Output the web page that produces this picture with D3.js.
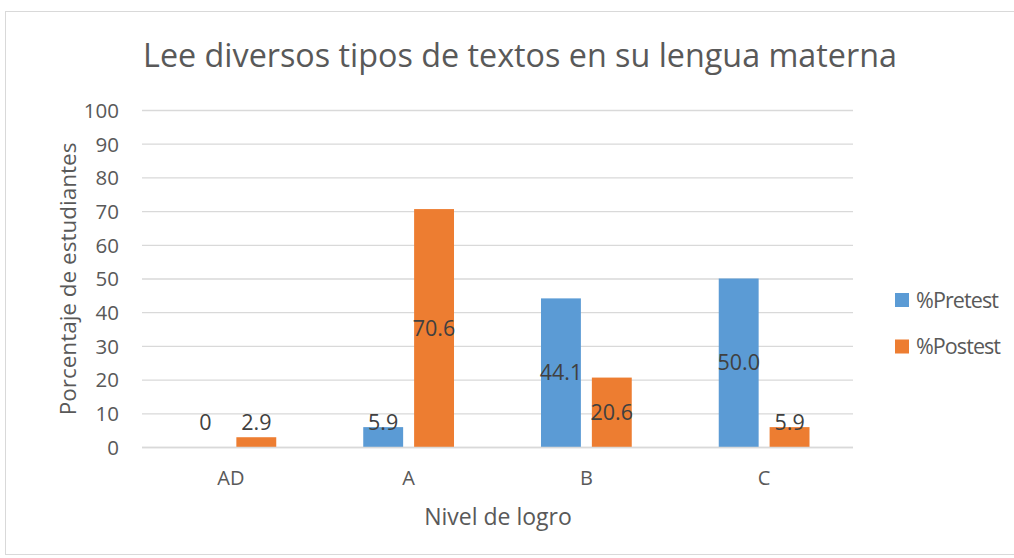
<!DOCTYPE html>
<html><head><meta charset="utf-8">
<script src="https://cdn.jsdelivr.net/npm/d3@7"></script>
<style>
body{margin:0;background:#fff;}
text{font-family:"Open Sans", Carlito, Calibri, sans-serif;}
</style></head>
<body><svg id="c" width="1014" height="558"></svg>
<script>
const categories = ["AD","A","B","C"];
const series = ["%Pretest","%Postest"];
const pretest = [0, 5.9, 44.1, 50.0];
const postest = [2.9, 70.6, 20.6, 5.9];
const yTicks = [0,10,20,30,40,50,60,70,80,90,100];
const colors = ["#5B9BD5","#ED7D31"];
const values = [pretest, postest];

(function(){
const svg = d3.select("#c");
svg.append("rect").attr("x",5.5).attr("y",11.5).attr("width",1020).attr("height",543)
  .attr("fill","#fff").attr("stroke","#D9D9D9");

const pL=142, pR=853, pT=110, pB=447;
const x0 = d3.scaleBand().domain(categories).range([pL,pR]).paddingInner(0).paddingOuter(0);
const bw0 = x0.bandwidth();
const x1 = d3.scaleBand().domain(series).range([bw0*0.2447, bw0*0.7553]).paddingInner(11/51).paddingOuter(0);
const y = d3.scaleLinear().domain([0,100]).range([pB,pT]);

svg.append("g").selectAll("line").data(yTicks).join("line")
  .attr("x1",pL).attr("x2",pR).attr("y1",d=>y(d)+0.5).attr("y2",d=>y(d)+0.5)
  .attr("stroke","#D9D9D9").attr("stroke-width",1.3);

const yAxis = d3.axisLeft(y).tickValues(yTicks).tickSize(0).tickPadding(0).tickFormat(d3.format("d"));
const ga = svg.append("g").attr("transform",`translate(119,0)`).call(yAxis);
ga.select(".domain").remove();
ga.selectAll("text").attr("fill","#595959").style("font-size","20.5px").attr("dy","0.36em");

const xAxis = d3.axisBottom(x0).tickSize(0).tickPadding(0);
const gx = svg.append("g").attr("transform",`translate(0,${pB})`).call(xAxis);
gx.select(".domain").remove();
gx.selectAll("text").attr("fill","#595959").style("font-size","20px").attr("dy","0").attr("y",38);

const groups = svg.append("g").selectAll("g").data(categories).join("g")
  .attr("transform",d=>`translate(${x0(d)},0)`);
series.forEach((s,si)=>{
  groups.append("rect")
    .attr("x",x1(s)).attr("width",x1.bandwidth())
    .attr("y",(d,i)=>y(values[si][i])).attr("height",(d,i)=>y(0)-y(values[si][i]))
    .attr("fill",colors[si]);
});
svg.append("line").attr("x1",pL).attr("x2",pR).attr("y1",pB+0.5).attr("y2",pB+0.5)
  .attr("stroke","#D9D9D9").attr("stroke-width",1.3);

const fmt = v => v===0 ? "0" : d3.format(".1f")(v);
series.forEach((s,si)=>{
  groups.append("text")
    .attr("x",x1(s)+x1.bandwidth()/2)
    .attr("y",(d,i)=>{const v=values[si][i]; const c=(y(0)+y(v))/2; return Math.min(c, y(0)-25);})
    .attr("dy","0.36em").attr("text-anchor","middle")
    .attr("fill","#404040").style("font-size","21.5px")
    .text((d,i)=>fmt(values[si][i]));
});

svg.append("text").attr("x",520).attr("y",67).attr("text-anchor","middle")
  .attr("fill","#595959").style("font-size","32.3px").text("Lee diversos tipos de textos en su lengua materna");

svg.append("text").attr("transform","translate(76,279) rotate(-90)").attr("text-anchor","middle")
  .attr("fill","#595959").style("font-size","22.5px").text("Porcentaje de estudiantes");
svg.append("text").attr("x",498).attr("y",525).attr("text-anchor","middle")
  .attr("fill","#595959").style("font-size","23px").text("Nivel de logro");

const lg = svg.append("g").selectAll("g").data(series).join("g")
  .attr("transform",(d,i)=>`translate(895,${293+i*46.5})`);
lg.append("rect").attr("width",14).attr("height",14).attr("fill",(d,i)=>colors[i]);
lg.append("text").attr("x",21).attr("y",7).attr("dy","0.36em").attr("fill","#595959")
  .style("font-size","21.5px").attr("textLength",(d,i)=>i===0?83:85).attr("lengthAdjust","spacing").text(d=>d);
})();
</script></body></html>
